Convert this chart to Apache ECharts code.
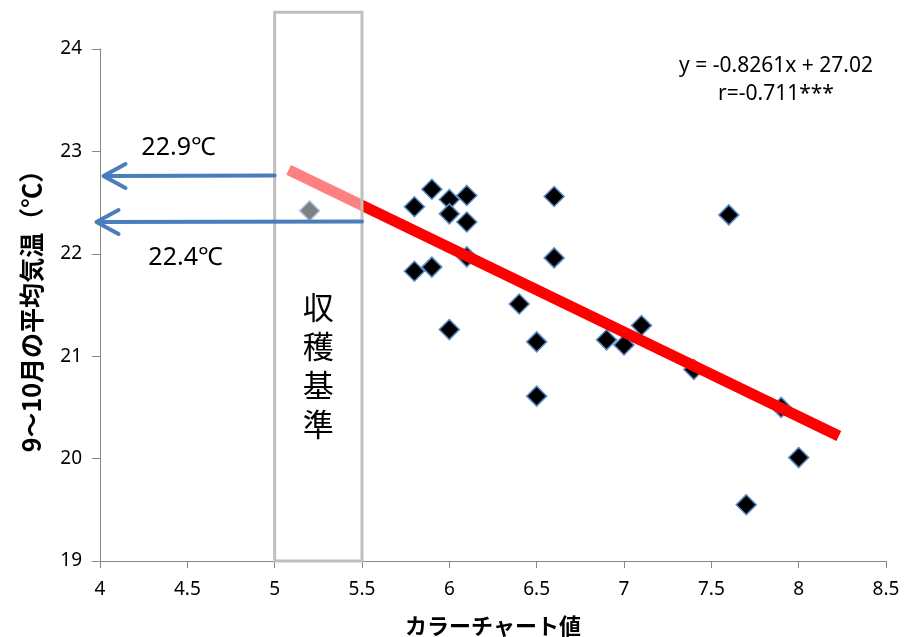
<!DOCTYPE html>
<html>
<head>
<meta charset="utf-8">
<script src="https://cdn.jsdelivr.net/npm/echarts@6/dist/echarts.min.js"></script>
<style>
  html, body { margin: 0; padding: 0; background: #fff; }
  #main { width: 907px; height: 637px; }
</style>
</head>
<body>
<div id="main"></div>
<script>
  // カラーチャート値
  var colorValues = [5.8, 5.8, 5.9, 5.9, 6.0, 6.0, 6.0, 6.1, 6.1, 6.1, 6.4, 6.5, 6.5, 6.6, 6.6, 6.9, 7.0, 7.1, 7.4, 7.6, 7.7, 7.9, 8.0];
  // 9～10月の平均気温
  var temps = [22.46, 21.83, 22.63, 21.87, 22.53, 22.39, 21.26, 22.57, 22.31, 21.97, 21.51, 21.14, 20.61, 22.56, 21.96, 21.16, 21.11, 21.30, 20.87, 22.38, 19.55, 20.50, 20.01];
  // 収穫基準内の点
  var refPoint = [5.2, 22.42];
  // 回帰直線 (端点)
  var trendX = [5.08, 8.23];
  var trendY = [22.82, 20.22];
  // 収穫基準の枠 [x1, y1, x2, y2]
  var harvestBox = [5, 19, 5.5, 24.36];
  // 矢印 [始点x, y, 先端x]
  var arrows = [[5, 22.76, 4.02], [5.5, 22.31, 3.98]];
  var arrowLabels = ['22.9℃', '22.4℃'];
  var arrowLabelPos = [[4.45, 23.03], [4.49, 21.96]];

  var font = '"Noto Sans", "Noto Sans CJK JP", sans-serif';
  var jpFont = '"Noto Sans CJK JP", sans-serif';

  var scatterData = colorValues.map(function (x, i) { return [x, temps[i]]; });
  var trendData = trendX.map(function (x, i) { return [x, trendY[i]]; });

  var myChart = echarts.init(document.getElementById('main'));
  var option = {
    animation: false,
    backgroundColor: '#fff',
    grid: { left: 100, right: 21, top: 49, bottom: 76, outerBoundsMode: 'none' },
    xAxis: {
      type: 'value',
      min: 4, max: 8.5, interval: 0.5,
      name: 'カラーチャート値',
      nameLocation: 'middle',
      nameGap: 54,
      nameTextStyle: { fontFamily: jpFont, fontSize: 22, fontWeight: 'bold', color: '#000' },
      axisLine: { show: true, lineStyle: { color: '#868686', width: 1 } },
      axisTick: { show: true, length: 7, lineStyle: { color: '#868686' } },
      axisLabel: { fontFamily: font, fontSize: 19, color: '#000', margin: 19 },
      splitLine: { show: false }
    },
    yAxis: {
      type: 'value',
      min: 19, max: 24, interval: 1,
      name: '9～10月の平均気温（℃）',
      nameLocation: 'middle',
      nameGap: 56,
      nameRotate: 90,
      nameTextStyle: { fontFamily: jpFont, fontSize: 25, fontWeight: 'bold', color: '#000' },
      axisLine: { show: true, lineStyle: { color: '#868686', width: 1 } },
      axisTick: { show: true, length: 8, lineStyle: { color: '#868686' } },
      axisLabel: { fontFamily: font, fontSize: 19, color: '#000', margin: 18 },
      splitLine: { show: false }
    },
    series: [
      {
        type: 'scatter',
        z: 2,
        symbol: 'diamond',
        symbolSize: 20,
        itemStyle: { color: '#000', borderColor: '#5b8bc7', borderWidth: 1.5, opacity: 1 },
        data: scatterData.concat([refPoint])
      },
      {
        type: 'line',
        z: 3,
        symbol: 'none',
        lineStyle: { color: '#ff0000', width: 11, cap: 'butt' },
        data: trendData
      },
      {
        type: 'custom',
        z: 4,
        clip: false,
        data: [harvestBox],
        renderItem: function (params, api) {
          var p1 = api.coord([api.value(0), api.value(3)]);
          var p2 = api.coord([api.value(2), api.value(1)]);
          var c = api.coord([(api.value(0) + api.value(2)) / 2, 20.91]);
          return {
            type: 'group',
            children: [
              {
                type: 'rect',
                shape: { x: p1[0], y: p1[1], width: p2[0] - p1[0], height: p2[1] - p1[1] },
                style: { fill: 'rgba(255,255,255,0.5)', stroke: '#bfbfbf', lineWidth: 3 }
              },
              {
                type: 'text',
                style: {
                  text: '収\n穫\n基\n準',
                  x: c[0], y: c[1],
                  align: 'center', verticalAlign: 'middle',
                  font: '31px ' + jpFont,
                  lineHeight: 39,
                  fill: '#000'
                }
              }
            ]
          };
        }
      },
      {
        type: 'custom',
        z: 5,
        clip: false,
        data: arrows,
        renderItem: function (params, api) {
          var s = api.coord([api.value(0), api.value(1)]);
          var t = api.coord([api.value(2), api.value(1)]);
          var lp = api.coord(arrowLabelPos[params.dataIndex]);
          var st = { stroke: '#4a7ebb', lineWidth: 4, fill: null, lineCap: 'round', lineJoin: 'round' };
          return {
            type: 'group',
            children: [
              { type: 'line', shape: { x1: s[0], y1: s[1] - 0.5, x2: t[0] + 2, y2: t[1] }, style: st },
              { type: 'polyline', shape: { points: [[t[0] + 22, t[1] - 12], [t[0], t[1]], [t[0] + 22, t[1] + 12]] }, style: st },
              {
                type: 'text',
                style: {
                  text: arrowLabels[params.dataIndex],
                  x: lp[0], y: lp[1],
                  align: 'center', verticalAlign: 'middle',
                  font: '25px ' + font,
                  fill: '#000'
                }
              }
            ]
          };
        }
      }
    ],
    graphic: [
      {
        type: 'text',
        x: 776, y: 66,
        style: {
          text: 'y = -0.8261x + 27.02',
          font: '21px ' + font,
          align: 'center', verticalAlign: 'middle',
          fill: '#000'
        }
      },
      {
        type: 'text',
        x: 776, y: 94,
        style: {
          text: 'r=-0.711***',
          font: '21px ' + font,
          align: 'center', verticalAlign: 'middle',
          fill: '#000'
        }
      }
    ]
  };
  myChart.setOption(option, true);
</script>
</body>
</html>
